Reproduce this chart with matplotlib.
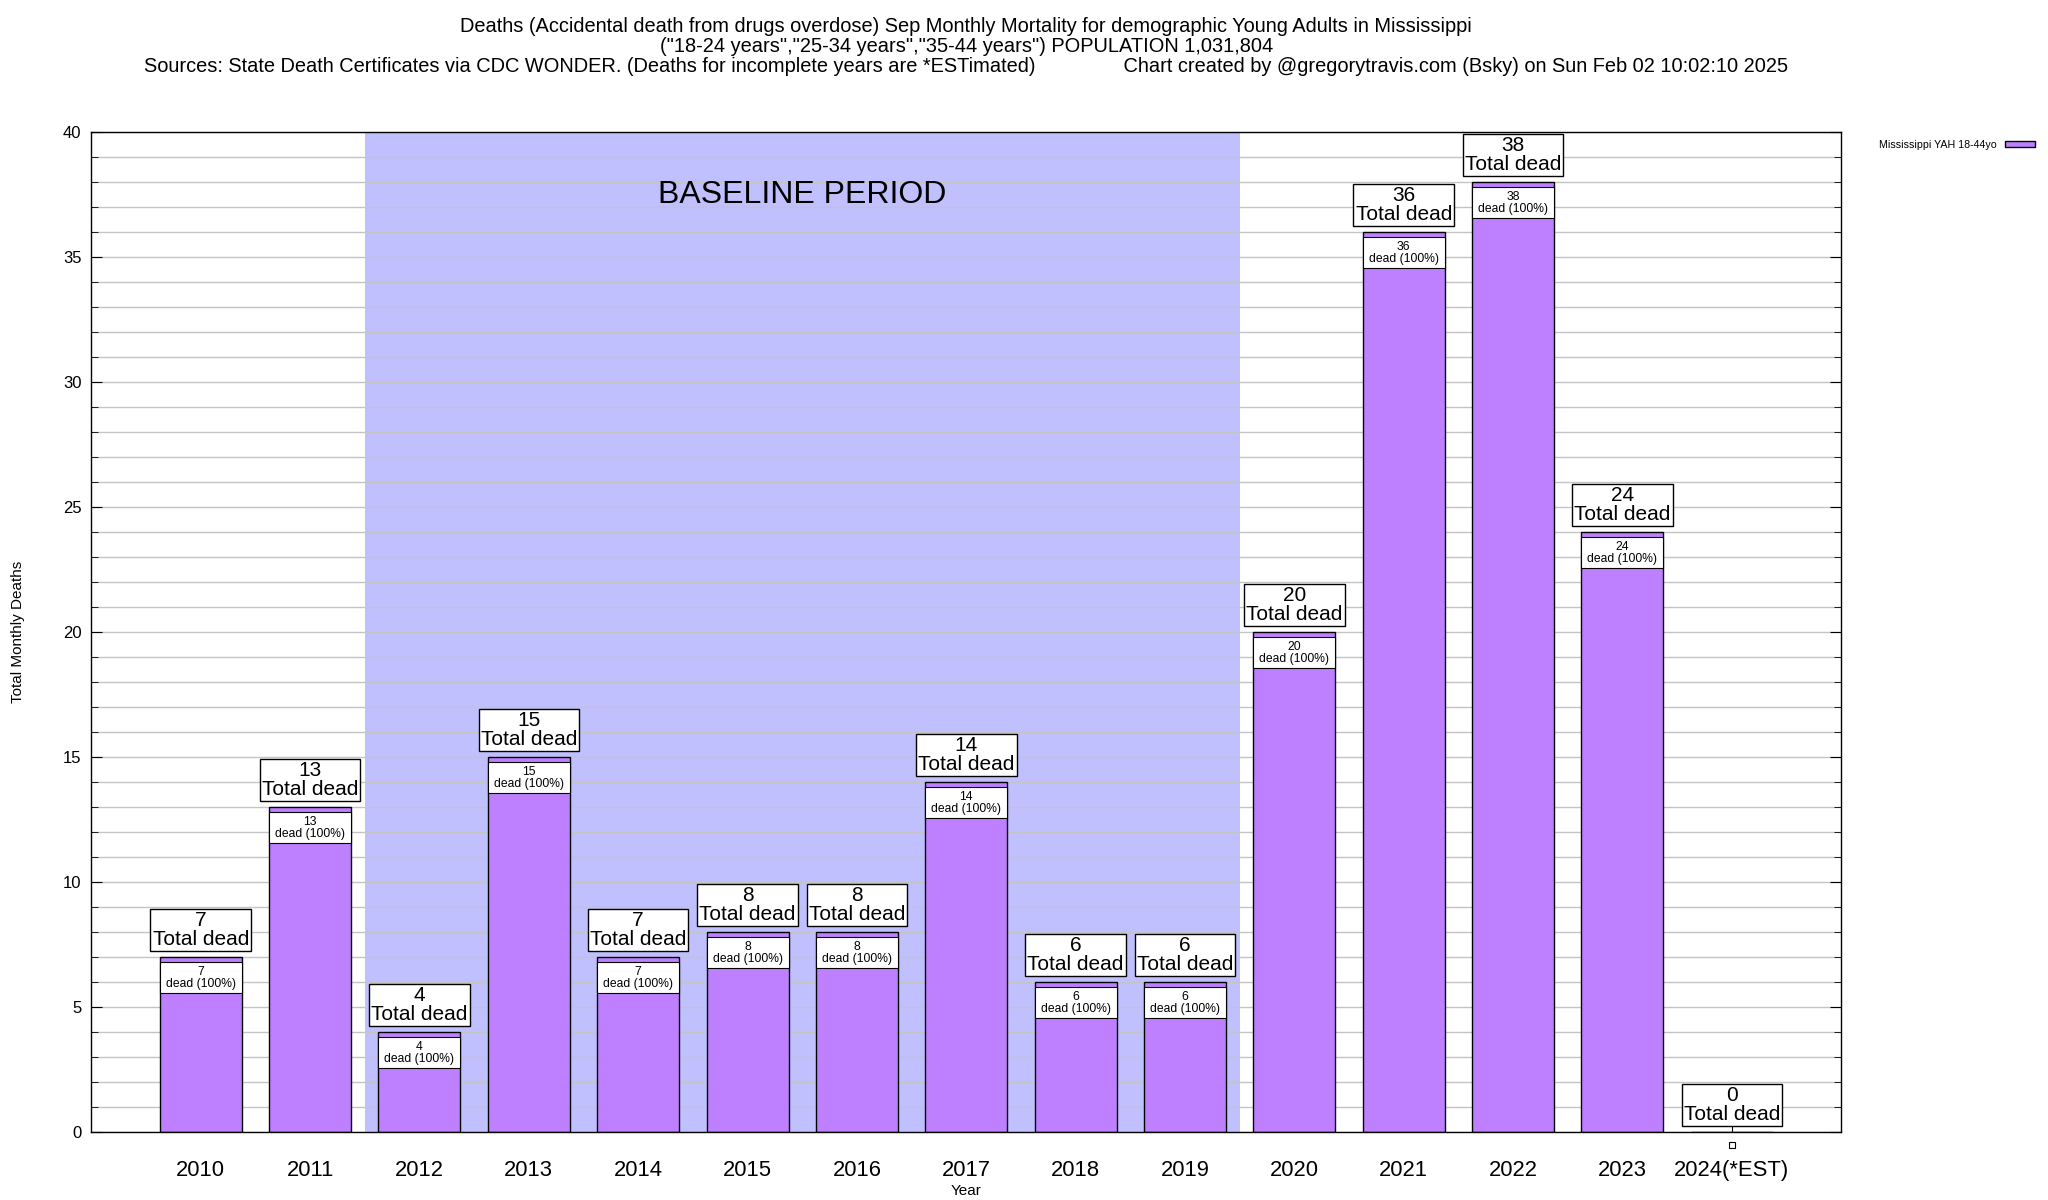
import numpy as np
import matplotlib
matplotlib.use("Agg")
import matplotlib.pyplot as plt
from matplotlib.ticker import MultipleLocator

plt.rcParams['font.family'] = ['Liberation Sans', 'DejaVu Sans']

# data
years = ["2010", "2011", "2012", "2013", "2014", "2015", "2016", "2017",
         "2018", "2019", "2020", "2021", "2022", "2023", "2024(*EST)"]
deaths = [7, 13, 4, 15, 7, 8, 8, 14, 6, 6, 20, 36, 38, 24, 0]
baseline_first, baseline_last = "2012", "2019"

title = ('Deaths (Accidental death from drugs overdose) Sep Monthly Mortality for demographic Young Adults in Mississippi\n'
         '("18-24 years","25-34 years","35-44 years") POPULATION 1,031,804\n'
         'Sources: State Death Certificates via CDC WONDER. (Deaths for incomplete years are *ESTimated)'
         '                Chart created by @gregorytravis.com (Bsky) on Sun Feb 02 10:02:10 2025')

bar_color = "#bf80ff"
shade_color = "#c0c0ff"

fig = plt.figure(figsize=(20.48, 12), dpi=100)
ax = fig.add_axes([0.0446, 0.0566, 0.8544, 0.8334])

x = np.arange(len(years))
w = 0.75

b0 = years.index(baseline_first)
b1 = years.index(baseline_last)
ax.axvspan(b0 - 0.5, b1 + 0.5, color=shade_color, zorder=0.1, lw=0)
ax.text((b0 + b1) / 2, 37.5, "BASELINE PERIOD", fontsize=23,
        ha="center", va="center", zorder=3)

ax.bar(x, deaths, width=w, color=bar_color, edgecolor="black", lw=1,
       zorder=2, label="Mississippi YAH 18-44yo")

for xi, v in zip(x, deaths):
    ax.text(xi, v + 0.33, f"{v}\nTotal dead", fontsize=15, ha="center",
            va="bottom", linespacing=1.0, zorder=4,
            bbox=dict(boxstyle="square,pad=0.1", fc="white", ec="black", lw=1))
    if v > 0:
        ax.bar(xi, 1.26, bottom=v - 1.45, width=w, color="white",
               edgecolor="black", lw=0.8, zorder=3)
        ax.text(xi, v - 0.82, f"{v}\ndead (100%)", fontsize=8.7, ha="center",
                va="center", linespacing=1.0, zorder=4)
    else:
        ax.plot(xi, -0.5, marker="s", ms=5, mfc="white", mec="black",
                mew=0.8, clip_on=False, zorder=4)

ax.set_xlim(-1, len(years))
ax.set_ylim(0, 40)
ax.yaxis.set_major_locator(MultipleLocator(5))
ax.yaxis.set_minor_locator(MultipleLocator(1))
ax.grid(True, which="both", axis="y", color="#c4c4c4", lw=1)
ax.set_axisbelow(True)
ax.set_xticks(x)
ax.set_xticklabels(years, fontsize=15.8)
ax.tick_params(axis="x", direction="in", length=6, pad=20, top=False)
ax.tick_params(axis="y", which="both", direction="in", right=True,
               labelsize=12, pad=7)
ax.tick_params(axis="y", which="major", length=8)
ax.tick_params(axis="y", which="minor", length=5)
for sp in ax.spines.values():
    sp.set_color("black")
    sp.set_linewidth(1)

ax.set_xlabel("Year", fontsize=11, labelpad=2)
ax.set_ylabel("Total Monthly Deaths", fontsize=11)
ax.yaxis.set_label_coords(-0.038, 0.5)

ax.set_title(title, fontsize=14.4, linespacing=1.07, pad=43)

ax.legend(loc="upper left", bbox_to_anchor=(1.016, 1.002), frameon=False,
          fontsize=7.7, markerfirst=False, handlelength=2.8, handleheight=0.5)

fig.savefig("out.png", dpi=100)
